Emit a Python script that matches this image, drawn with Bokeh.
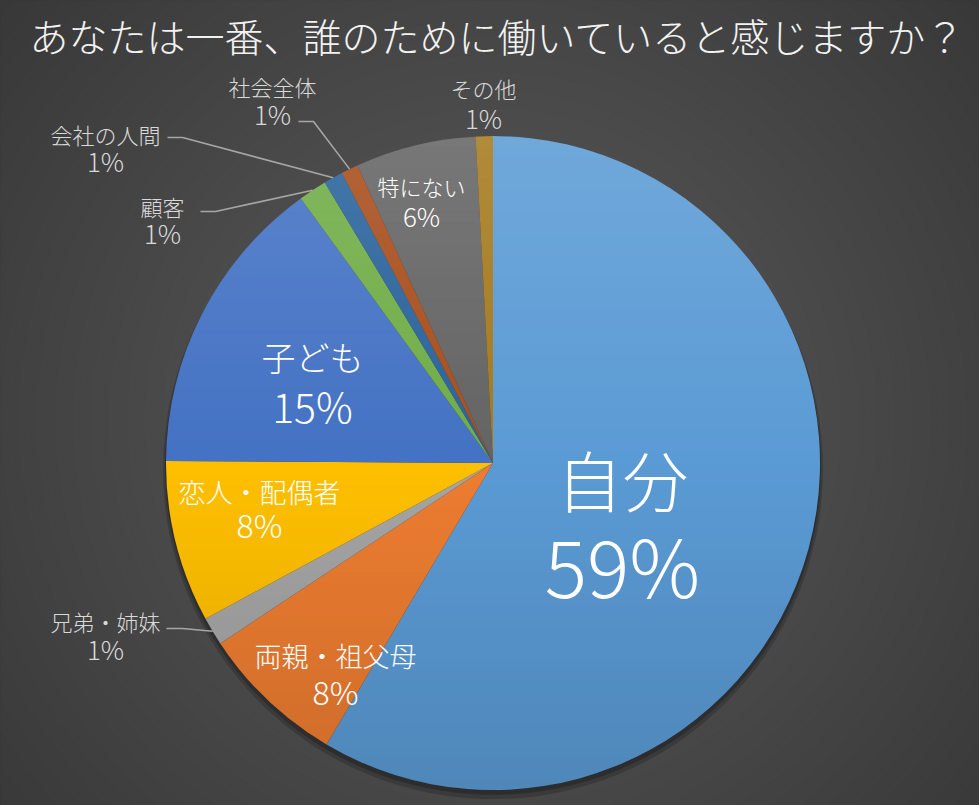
import numpy as np
from bokeh.plotting import figure
from bokeh.models import Range1d
from bokeh.core.properties import value
from bokeh.embed import file_html
from bokeh.resources import INLINE

# ---------------- data ----------------
title = "あなたは一番、誰のために働いていると感じますか？"
categories = ["自分", "両親・祖父母", "兄弟・姉妹", "恋人・配偶者", "子ども",
              "顧客", "会社の人間", "社会全体", "特にない", "その他"]
shares = [58.5, 7.2, 1.4, 8.0, 14.9, 1.4, 0.95, 0.85, 5.95, 0.85]
pct_labels = ["59%", "8%", "1%", "8%", "15%", "1%", "1%", "1%", "6%", "1%"]

# ---------------- styles / layout ----------------
colors = ["#5B9BD5", "#ED7D31", "#A5A5A5", "#FFC000", "#4472C4",
          "#70AD47", "#2A639C", "#A84E1C", "#646464", "#A57A1E"]
W, H = 979, 805
FONT = "Noto Sans CJK JP Light, Noto Sans CJK JP"
CX, CY_TOP, R = 492.5, 462.5, 327.0
CY = H - CY_TOP
PCT_SCALE = 1.2

# label layout: (name x, name y, pct y, font px, color, outside, elbow) in top-down pixels
label_layout = {
    "自分":       (622, 477, 563, 66, "#ffffff", False, None),
    "両親・祖父母": (335, 655, 690, 27, "#ffffff", False, None),
    "兄弟・姉妹":  (105, 620, 648, 22, "#d9d9d9", True, (166, 628, 182)),
    "恋人・配偶者": (259, 491, 523, 27, "#ffffff", False, None),
    "子ども":     (312, 356, 404, 34, "#ffffff", False, None),
    "顧客":       (162, 205, 232, 22, "#d9d9d9", True, (200, 211, 215)),
    "会社の人間":  (105, 133, 160, 22, "#d9d9d9", True, (167, 137, 182)),
    "社会全体":    (272, 85, 113, 22, "#d9d9d9", True, (298, 121, 313)),
    "特にない":    (421, 185, 215, 22, "#ffffff", False, None),
    "その他":     (483, 87, 117, 22, "#d9d9d9", True, None),
}

p = figure(width=W, height=H, x_range=Range1d(0, W), y_range=Range1d(0, H),
           output_backend="svg", toolbar_location=None, min_border=0)
p.axis.visible = False
p.grid.visible = False
p.outline_line_color = None
p.background_fill_color = "#353535"
p.border_fill_color = "#353535"

# background radial gradient
def mix(c1, c2, t):
    a = np.array([int(c1[i:i + 2], 16) for i in (1, 3, 5)], float)
    b = np.array([int(c2[i:i + 2], 16) for i in (1, 3, 5)], float)
    c = a + (b - a) * t
    return "#%02x%02x%02x" % tuple(int(round(v)) for v in c)

radii = np.arange(720, 0, -6.0)
bg_cols = [mix("#343434", "#5c5c5c", 1 - r / 720) for r in radii]
p.circle(x=[CX] * len(radii), y=[H - 420] * len(radii), radius=radii,
         fill_color=bg_cols, line_color=None)

# shadow
p.circle(x=[CX], y=[CY - 6], radius=[R + 3], fill_color="black", fill_alpha=0.18, line_color=None)
p.circle(x=[CX], y=[CY - 4], radius=[R + 1], fill_color="black", fill_alpha=0.22, line_color=None)

# pie
fr = np.array(shares, float) / np.sum(shares)
cum = np.concatenate([[0], np.cumsum(fr)]) * 2 * np.pi
start = np.pi / 2 - cum[:-1]
end = np.pi / 2 - cum[1:]
p.wedge(x=[CX] * len(fr), y=[CY] * len(fr), radius=R, start_angle=start, end_angle=end,
        direction="clock", fill_color=colors, line_color=None)

# vertical shading overlay on the pie
nb = 60
edges = np.linspace(CY + R, CY - R, nb + 1)
xs, ys, fc, fa = [], [], [], []
for i in range(nb):
    y1, y2 = edges[i], edges[i + 1]
    yy = np.linspace(y1, y2, 6)
    half = np.sqrt(np.clip(R ** 2 - (yy - CY) ** 2, 0, None))
    xs.append(list(CX - half) + list((CX + half)[::-1]))
    ys.append(list(yy) + list(yy[::-1]))
    t = (i + 0.5) / nb
    if t < 0.5:
        fc.append("#ffffff"); fa.append(0.13 * (1 - 2 * t))
    else:
        fc.append("#000000"); fa.append(0.13 * (2 * t - 1))
p.patches(xs=xs, ys=ys, fill_color=fc, fill_alpha=fa, line_color=None)

# leader lines
mid = np.pi / 2 - (cum[:-1] + cum[1:]) / 2
for i, cat in enumerate(categories):
    lx, ly, py, fs, col, outside, elbow = label_layout[cat]
    if elbow is not None:
        ex, ey, kx = elbow
        rx = CX + R * np.cos(mid[i])
        ry = CY + R * np.sin(mid[i])
        p.line(x=[ex, kx, rx], y=[H - ey, H - ey, ry], line_color="#a6a6a6", line_width=1.6)

# labels
for i, cat in enumerate(categories):
    lx, ly, py, fs, col, outside, elbow = label_layout[cat]
    p.text(x=[lx], y=[H - ly], text=[cat],
           text_font=value(FONT), text_font_size=f"{fs}px", text_color=col,
           text_align="center", text_baseline="middle")
    p.text(x=[lx], y=[H - py], text=[pct_labels[i]],
           text_font=value(FONT), text_font_size=f"{round(fs * PCT_SCALE)}px", text_color=col,
           text_align="center", text_baseline="middle")

# title
p.text(x=[497], y=[H - 34], text=[title], text_font=value(FONT), text_font_size="39px",
       text_color="#f2f2f2", text_align="center", text_baseline="middle")

open("out.html", "w").write(file_html(p, INLINE))
